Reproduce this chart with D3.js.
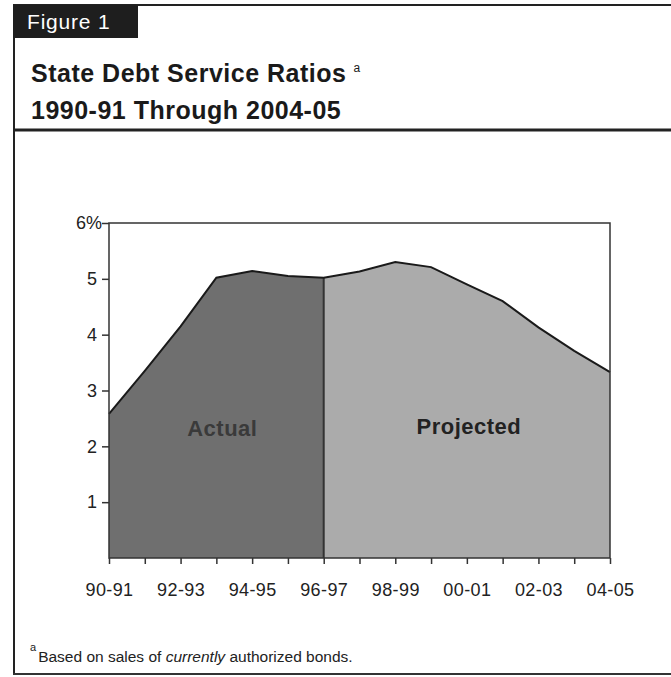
<!DOCTYPE html>
<html><head><meta charset="utf-8">
<script src="https://cdn.jsdelivr.net/npm/d3@7"></script>
<style>
html,body{margin:0;padding:0;background:#fff;}
svg{display:block;font-family:"Liberation Sans",Arial,Helvetica,sans-serif;}
</style></head>
<body>
<script>
const categories = ["90-91","91-92","92-93","93-94","94-95","95-96","96-97","97-98","98-99","99-00","00-01","01-02","02-03","03-04","04-05"];
const ratios = [2.58,3.35,4.15,5.02,5.14,5.05,5.02,5.13,5.3,5.21,4.9,4.6,4.13,3.71,3.33];
const splitCategory = "96-97";
const yTicks = [1,2,3,4,5,6];
const xLabels = ["90-91","92-93","94-95","96-97","98-99","00-01","02-03","04-05"];
const title1 = "State Debt Service Ratios";
const title2 = "1990-91 Through 2004-05";
const figLabel = "Figure 1";
const footnote = ["Based on sales of ","currently"," authorized bonds."];

(function(){
const W = 671, H = 677;
const svg = d3.select("body").append("svg").attr("width", W).attr("height", H);

// frame
svg.append("line").attr("x1",13).attr("x2",W).attr("y1",5).attr("y2",5).attr("stroke","#222").attr("stroke-width",2);
svg.append("line").attr("x1",14).attr("x2",14).attr("y1",5).attr("y2",675).attr("stroke","#222").attr("stroke-width",2);
svg.append("line").attr("x1",13).attr("x2",W).attr("y1",674).attr("y2",674).attr("stroke","#333").attr("stroke-width",2);
svg.append("line").attr("x1",13).attr("x2",W).attr("y1",130).attr("y2",130).attr("stroke","#222").attr("stroke-width",3);
svg.append("rect").attr("x",13).attr("y",5).attr("width",125).attr("height",33).attr("fill","#1e1e1e");
svg.append("text").attr("x",27).attr("y",29).attr("fill","#fff").attr("font-size",21).attr("letter-spacing",0.8).text(figLabel);

const t1 = svg.append("text").attr("x",31).attr("y",82).attr("font-size",25).attr("letter-spacing",0.5).attr("font-weight","bold").attr("fill","#1a1a1a").text(title1);
t1.append("tspan").attr("font-size",12).attr("font-weight","normal").attr("dx",7).attr("dy",-10).text("a");
svg.append("text").attr("x",31).attr("y",119).attr("font-size",25).attr("letter-spacing",0.5).attr("font-weight","bold").attr("fill","#1a1a1a").text(title2);

// chart
const pL=109, pR=610, pT=223, pB=558;
const x = d3.scalePoint().domain(categories).range([pL,pR]);
const y = d3.scaleLinear().domain([0,6]).range([pB,pT]);
const data = categories.map((c,i)=>({c, v: ratios[i]}));
const si = categories.indexOf(splitCategory);
const actual = data.slice(0, si+1), projected = data.slice(si);

const area = d3.area().x(d=>x(d.c)).y0(y(0)).y1(d=>y(d.v));
svg.append("path").datum(actual).attr("d",area).attr("fill","#6f6f6f");
svg.append("path").datum(projected).attr("d",area).attr("fill","#ababab");
svg.append("line").attr("x1",x(splitCategory)).attr("x2",x(splitCategory))
  .attr("y1",y(0)).attr("y2",y(ratios[si])).attr("stroke","#333").attr("stroke-width",2);
svg.append("path").datum(data).attr("d",d3.line().x(d=>x(d.c)).y(d=>y(d.v)))
  .attr("fill","none").attr("stroke","#1a1a1a").attr("stroke-width",2);
svg.append("rect").attr("x",pL).attr("y",pT).attr("width",pR-pL).attr("height",pB-pT)
  .attr("fill","none").attr("stroke","#333").attr("stroke-width",1.5);

const yAxis = svg.append("g").attr("transform",`translate(${pL},0)`)
  .call(d3.axisLeft(y).tickValues(yTicks).tickSize(7).tickPadding(5).tickFormat(d=>d===6?"6%":d));
yAxis.select(".domain").remove();
yAxis.selectAll("line").attr("stroke","#333").attr("stroke-width",1.5);
yAxis.selectAll("text").attr("font-size",18).attr("fill","#222").attr("font-family","Liberation Sans, Arial, sans-serif");
yAxis.selectAll(".tick").filter(d=>d===6).select("text").attr("x",-7);

const xAxis = svg.append("g").attr("transform",`translate(0,${pB})`)
  .call(d3.axisBottom(x).tickSize(6).tickPadding(19).tickFormat(d=>xLabels.includes(d)?d:""));
xAxis.select(".domain").remove();
xAxis.selectAll("line").attr("stroke","#333").attr("stroke-width",1.5);
xAxis.selectAll("text").attr("font-size",18).attr("letter-spacing",0.4).attr("fill","#222").attr("font-family","Liberation Sans, Arial, sans-serif");

const mid = (a,b)=>(x(a)+x(b))/2;
svg.append("text").attr("x",mid(categories[0],splitCategory)+6).attr("y",436).attr("text-anchor","middle")
  .attr("font-size",22).attr("letter-spacing",0.5).attr("font-weight","bold").attr("fill","#3a3a3a").text("Actual");
svg.append("text").attr("x",mid(splitCategory,categories[categories.length-1])+2).attr("y",434).attr("text-anchor","middle")
  .attr("font-size",22).attr("letter-spacing",0.5).attr("font-weight","bold").attr("fill","#222").text("Projected");

// footnote
const fn = svg.append("text").attr("x",30).attr("y",662).attr("font-size",15.5).attr("fill","#222");
fn.append("tspan").attr("font-size",11).attr("dy",-11).text("a");
fn.append("tspan").attr("dy",11).attr("dx",2).text(footnote[0]);
fn.append("tspan").attr("font-style","italic").text(footnote[1]);
fn.append("tspan").text(footnote[2]);
})();
</script>
</body></html>
